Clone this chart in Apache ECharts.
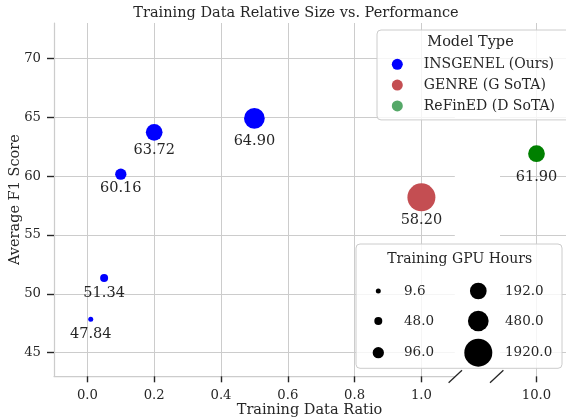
<!DOCTYPE html>
<html>
<head>
<meta charset="utf-8">
<script src="https://cdn.jsdelivr.net/npm/echarts@6/dist/echarts.min.js"></script>
<style>
  html, body { margin: 0; padding: 0; background: #fff; }
  #main { width: 566px; height: 419px; }
</style>
</head>
<body>
<div id="main"></div>
<script>
// ---- data ----
var modelNames = ['INSGENEL (Ours)', 'GENRE (G SoTA)', 'ReFinED (D SoTA)'];

var insgenelRatio = [0.01, 0.05, 0.1, 0.2, 0.5];
var insgenelF1 = [47.84, 51.34, 60.16, 63.72, 64.90];
var insgenelHours = [9.6, 48, 96, 192, 480];

var genreRatio = [1.0];
var genreF1 = [58.20];
var genreHours = [1920];

var refinedRatio = [10.0];
var refinedF1 = [61.90];
var refinedHours = [192];

var leftXTicks = [0, 0.2, 0.4, 0.6, 0.8, 1.0];
var rightXTicks = [10.0];
var yTicks = [45, 50, 55, 60, 65, 70];
var legendHours = [9.6, 48, 96, 192, 480, 1920];

// ---- styles ----
var FONT = 'DejaVu Serif';
var TXT = '#262626';
var GRID = '#cccccc';
var sizePx = {'9.6': 5, '48': 8, '96': 11.3, '192': 16.7, '480': 20.7, '1920': 28};
var labelDy = {insgenel: [14.7, 15.3, 14.4, 18.4, 23], genre: [23.4], refined: [23.4]};

function pts(xs, ys, hs, dys) {
	var out = [];
	for (var i = 0; i < xs.length; i++) {
		out.push({
			value: [xs[i], ys[i], hs[i]],
			symbolSize: sizePx[String(hs[i])],
			label: {offset: [0, dys[i]]}
		});
	}
	return out;
}

var valueLabel = {
	show: true,
	position: 'inside',
	color: TXT,
	fontFamily: FONT,
	fontSize: 14.5,
	formatter: function (p) { return p.value[1].toFixed(2); }
};

// layout
var L0 = 54, R0 = 454.8, L1 = 500, R1 = 573, TOP = 23, BOT = 376.3;

var tickStyle = {show: true, inside: false, length: 6, lineStyle: {color: TXT, width: 1.4}};
var splitStyle = {show: true, lineStyle: {color: GRID, width: 1}};

// size legend
var sizeLegend = [
	{type: 'rect', shape: {x: 356, y: 244, width: 206, height: 124.3, r: 4},
	 style: {fill: 'rgba(255,255,255,0.8)', stroke: GRID, lineWidth: 1}, z: 10},
	{type: 'text', x: 459.7, y: 259.3, z: 11,
	 style: {text: 'Training GPU Hours', font: '14px "' + FONT + '"', fill: TXT, align: 'center', verticalAlign: 'middle'}}
];
var colDot = [378.3, 478.3], colTxt = [404, 505], rowY = [291, 321, 352.7];
legendHours.forEach(function (h, i) {
	var c = Math.floor(i / 3), r = i % 3;
	sizeLegend.push({type: 'circle', z: 11, shape: {cx: colDot[c], cy: rowY[r], r: sizePx[String(h)] / 2}, style: {fill: '#000'}});
	sizeLegend.push({type: 'text', z: 11, x: colTxt[c], y: rowY[r],
		style: {text: h.toFixed(1), font: '13.5px "' + FONT + '"', fill: TXT, align: 'left', verticalAlign: 'middle'}});
});

// broken axis marks
var breakMarks = [R0 + 0.5, L1 - 3.3].map(function (x) {
	return {type: 'line', z: 12, shape: {x1: x - 6.7, y1: BOT + 6.5, x2: x + 6.7, y2: BOT - 6},
		style: {stroke: TXT, lineWidth: 1.3}};
});

var myChart = echarts.init(document.getElementById('main'));
var option = {
	animation: false,
	backgroundColor: '#fff',
	title: {
		text: 'Training Data Relative Size vs. Performance',
		left: 291, top: 1, textAlign: 'center',
		textStyle: {fontFamily: FONT, fontSize: 14.5, fontWeight: 'normal', color: TXT}
	},
	grid: [
		{left: L0, width: R0 - L0, top: TOP, bottom: 419 - BOT, containLabel: false, outerBoundsMode: 'none'},
		{left: L1, right: 566 - R1, top: TOP, bottom: 419 - BOT, containLabel: false, outerBoundsMode: 'none'}
	],
	xAxis: [
		{gridIndex: 0, type: 'value', min: -0.1, max: 1.1,
		 axisLine: {show: true, onZero: false, lineStyle: {color: GRID, width: 1.25}},
		 axisTick: Object.assign({customValues: leftXTicks}, tickStyle),
		 axisLabel: {customValues: leftXTicks, margin: 13, color: TXT, fontFamily: FONT, fontSize: 13.2,
			formatter: function (v) { return v.toFixed(1); }},
		 splitLine: splitStyle},
		{gridIndex: 1, type: 'value', min: 9.9, max: 10.1,
		 axisLine: {show: false, onZero: false},
		 axisTick: Object.assign({customValues: rightXTicks}, tickStyle),
		 axisLabel: {customValues: rightXTicks, margin: 13, color: TXT, fontFamily: FONT, fontSize: 13.2,
			formatter: function (v) { return v.toFixed(1); }},
		 splitLine: splitStyle}
	],
	yAxis: [
		{gridIndex: 0, type: 'value', min: 43, max: 73,
		 name: 'Average F1 Score', nameLocation: 'middle', nameGap: 31, nameRotate: 90,
		 nameMoveOverlap: false,
		 nameTextStyle: {fontFamily: FONT, fontSize: 14.5, color: TXT},
		 axisLine: {show: true, onZero: false, lineStyle: {color: GRID, width: 1.25}},
		 axisTick: {show: true, inside: false, customValues: yTicks, length: 7, lineStyle: {color: TXT, width: 1.4}},
		 axisLabel: {customValues: yTicks, margin: 13, color: TXT, fontFamily: FONT, fontSize: 13.2},
		 splitLine: splitStyle},
		{gridIndex: 1, type: 'value', min: 43, max: 73,
		 axisLine: {show: false, onZero: false},
		 axisTick: {show: false, customValues: yTicks},
		 axisLabel: {show: false, customValues: yTicks},
		 splitLine: splitStyle}
	],
	legend: {
		orient: 'vertical', left: 377, top: 30,
		padding: [23.9, 40, 3.6, 14.8],
		backgroundColor: 'rgba(255,255,255,0.8)',
		borderColor: GRID, borderWidth: 1, borderRadius: 4,
		icon: 'circle', itemWidth: 11, itemHeight: 11, itemGap: 0,
		selectedMode: false,
		textStyle: {fontFamily: FONT, fontSize: 14, color: TXT, lineHeight: 20.8, padding: [0, 0, 0, 16]},
		data: [
			{name: modelNames[0], itemStyle: {color: '#0000ff'}},
			{name: modelNames[1], itemStyle: {color: '#c44e52'}},
			{name: modelNames[2], itemStyle: {color: '#55a868'}}
		]
	},
	graphic: [
		{type: 'text', x: 470.5, y: 42.3, z: 100,
		 style: {text: 'Model Type', font: '14.5px "' + FONT + '"', fill: TXT, align: 'center', verticalAlign: 'middle'}},
		{type: 'text', x: 309.5, y: 410,
		 style: {text: 'Training Data Ratio', font: '14.5px "' + FONT + '"', fill: TXT, align: 'center', verticalAlign: 'middle'}}
	].concat(sizeLegend).concat(breakMarks),
	series: [
		{name: modelNames[0], type: 'scatter', xAxisIndex: 0, yAxisIndex: 0,
		 itemStyle: {color: '#0000ff', opacity: 1}, label: valueLabel,
		 data: pts(insgenelRatio, insgenelF1, insgenelHours, labelDy.insgenel)},
		{name: modelNames[1], type: 'scatter', xAxisIndex: 0, yAxisIndex: 0,
		 itemStyle: {color: '#c44e52', opacity: 1}, label: valueLabel,
		 data: pts(genreRatio, genreF1, genreHours, labelDy.genre)},
		{name: modelNames[2], type: 'scatter', xAxisIndex: 1, yAxisIndex: 1,
		 itemStyle: {color: '#008000', opacity: 1}, label: valueLabel,
		 data: pts(refinedRatio, refinedF1, refinedHours, labelDy.refined)}
	]
};
myChart.setOption(option);
</script>
</body>
</html>
